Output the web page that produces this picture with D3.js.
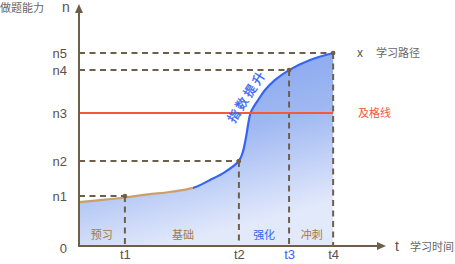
<!DOCTYPE html>
<html><head><meta charset="utf-8">
<script src="https://cdn.jsdelivr.net/npm/d3@7"></script>
<style>
html,body{margin:0;padding:0;background:#fff;}
text{font-family:"Liberation Sans","Noto Sans CJK SC",sans-serif;}
</style></head>
<body>
<svg id="c" width="455" height="264"></svg>
<script>
// data
const levelLabels = ["n1","n2","n3","n4","n5"];
const levelValues = [20.8, 35.4, 55.4, 73.3, 80.4];
const timeLabels = ["t1","t2","t3","t4"];
const timeValues = [15.1, 52.6, 69.1, 83.6];
const curveT = [0, 7.6, 15.1, 22.7, 29.9, 37.5, 43.1, 48.0, 52.6, 53.9, 54.9, 55.6, 56.4, 57.6, 58.9, 61.2, 64.5, 69.1, 76.0, 83.6];
const curveN = [18.3, 19.2, 20.2, 21.5, 22.5, 24.2, 27.5, 30.8, 35.4, 39.2, 45.0, 50.4, 55.4, 58.3, 60.8, 65.0, 69.2, 73.3, 77.5, 80.4];
const phaseLabels = ["预习","基础","强化","冲刺"];
const phaseCenters = [7.5, 34.2, 60.9, 76.6];
const passLevel = 55.4;
const tanEnd = 37.5;

const svg = d3.select("#c");
const x = d3.scaleLinear().domain([0,100]).range([79,383]);
const y = d3.scaleLinear().domain([0,100]).range([246,6]);
const brown = "#6e5f4b";
const curve = curveT.map((t,i)=>({t, n:curveN[i]}));

const defs = svg.append("defs");
const g = defs.append("linearGradient").attr("id","fillg").attr("x1","0").attr("y1","0").attr("x2","0.35").attr("y2","1");
g.append("stop").attr("offset","0").attr("stop-color","#7b9ded");
g.append("stop").attr("offset","0.55").attr("stop-color","#9fb8f2");
g.append("stop").attr("offset","1").attr("stop-color","#e2e9fb");
defs.append("clipPath").attr("id","tanclip").append("rect")
  .attr("x",0).attr("y",0).attr("width",x(tanEnd)).attr("height",264);
defs.append("clipPath").attr("id","blueclip").append("rect")
  .attr("x",x(tanEnd)).attr("y",0).attr("width",455).attr("height",264);

const cv = d3.curveCatmullRom.alpha(0.5);
const area = d3.area().x(d=>x(d.t)).y0(y(0)).y1(d=>y(d.n)).curve(cv);
const line = d3.line().x(d=>x(d.t)).y(d=>y(d.n)).curve(cv);

svg.append("path").datum(curve).attr("d",area).attr("fill","url(#fillg)");
svg.append("path").datum(curve).attr("d",line).attr("fill","none")
  .attr("stroke","#c9a06a").attr("stroke-width",2.2).attr("clip-path","url(#tanclip)");
svg.append("path").datum(curve).attr("d",line).attr("fill","none")
  .attr("stroke","#3565f2").attr("stroke-width",2.2).attr("clip-path","url(#blueclip)");

// dashed guides
const guideIdx = [0,1,3,4];
guideIdx.forEach((li,k)=>{
  const tv = timeValues[k], nv = levelValues[li];
  svg.append("line").attr("x1",x(0)).attr("x2",x(tv)).attr("y1",y(nv)).attr("y2",y(nv))
    .attr("stroke",brown).attr("stroke-width",2).attr("stroke-dasharray","6,4.5");
  svg.append("line").attr("x1",x(tv)).attr("x2",x(tv)).attr("y1",y(nv)).attr("y2",y(0))
    .attr("stroke",brown).attr("stroke-width",2).attr("stroke-dasharray","6,4.5");
  svg.append("circle").attr("cx",x(tv)).attr("cy",y(nv)).attr("r",2.3).attr("fill",brown);
});

// pass line
svg.append("line").attr("x1",x(0)).attr("x2",x(timeValues[3])).attr("y1",y(passLevel)).attr("y2",y(passLevel))
  .attr("stroke","#f25a38").attr("stroke-width",2);

// axes
svg.append("line").attr("x1",x(0)).attr("x2",x(100)-4).attr("y1",y(0)).attr("y2",y(0))
  .attr("stroke",brown).attr("stroke-width",2);
svg.append("path").attr("d",`M${x(100)+3},${y(0)} l-9,-4 l0,8 z`).attr("fill",brown);
svg.append("line").attr("x1",x(0)).attr("x2",x(0)).attr("y1",y(0)+1).attr("y2",y(100)+4)
  .attr("stroke",brown).attr("stroke-width",2);
svg.append("path").attr("d",`M${x(0)},${y(100)-2} l-4,9 l8,0 z`).attr("fill",brown);

// y tick labels
const yAxis = d3.axisLeft(y).tickValues([0,...levelValues])
  .tickFormat((d,i)=> i===0 ? "0" : levelLabels[i-1]).tickSize(0).tickPadding(12);
const ya = svg.append("g").attr("transform",`translate(${x(0)},0)`).call(yAxis);
ya.select(".domain").remove();
ya.selectAll("text").attr("font-size",13).attr("fill","#5a5248")
  .attr("font-family",'"Liberation Sans",sans-serif');
ya.selectAll(".tick").filter(d=>d===0).select("text").attr("dy","0.5em");

// x tick labels
const xAxis = d3.axisBottom(x).tickValues(timeValues).tickFormat((d,i)=>timeLabels[i]).tickSize(0).tickPadding(4);
const xa = svg.append("g").attr("transform",`translate(0,${y(0)})`).call(xAxis);
xa.select(".domain").remove();
xa.selectAll("text").attr("font-size",13).attr("fill",(d,i)=> i===2 ? "#3565f2" : "#5a5248")
  .attr("font-family",'"Liberation Sans",sans-serif');

// axis titles
svg.append("text").attr("x",0).attr("y",12).attr("font-size",11).attr("fill","#666").text("做题能力");
svg.append("text").attr("x",62).attr("y",12).attr("font-size",14).attr("fill","#5a5248").text("n");
svg.append("text").attr("x",395).attr("y",251).attr("font-size",14).attr("fill","#5a5248").text("t");
svg.append("text").attr("x",410).attr("y",251).attr("font-size",11).attr("fill","#666").text("学习时间");
svg.append("text").attr("x",357).attr("y",57).attr("font-size",12).attr("fill","#5a5248").text("x");
svg.append("text").attr("x",376).attr("y",57).attr("font-size",11).attr("fill","#666").text("学习路径");
svg.append("text").attr("x",358).attr("y",y(passLevel)+4).attr("font-size",11).attr("fill","#f25a38").text("及格线");

// phase labels
svg.selectAll(".ph").data(phaseLabels).enter().append("text")
  .attr("x",(d,i)=>x(phaseCenters[i])).attr("y",239).attr("text-anchor","middle")
  .attr("font-size",11).attr("fill",(d,i)=> i===2 ? "#3565f2" : "#a07a48").text(d=>d);

// exponential label
svg.append("text").attr("transform",`translate(${x(55.2)},${y(62.4)}) rotate(-57)`)
  .attr("text-anchor","middle").attr("dy","0.35em").attr("font-size",12.5)
  .attr("fill","#3565f2").attr("stroke","#3565f2").attr("stroke-width",0.3)
  .attr("letter-spacing",2.5).text("指数提升");
</script>
</body></html>
